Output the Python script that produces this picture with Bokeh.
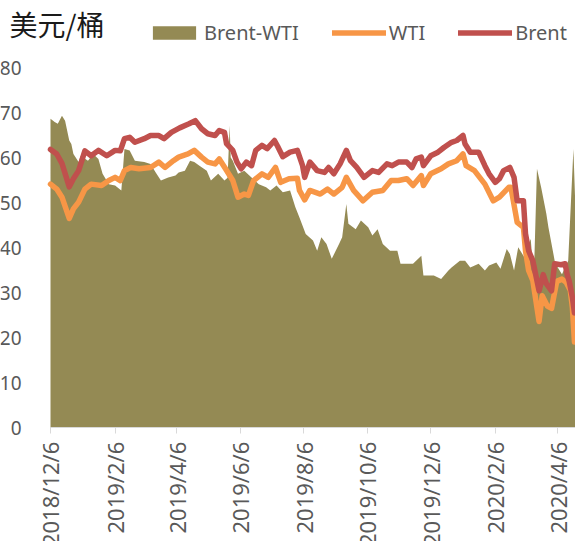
import math
import pandas as pd
from bokeh.plotting import figure
from bokeh.models import Range1d, FixedTicker, Legend, LegendItem, Label
from bokeh.embed import file_html
from bokeh.resources import INLINE

# ---------------- data ----------------
brent_dates = ["2018-12-06", "2018-12-12", "2018-12-17", "2018-12-24", "2018-12-28", "2019-01-02",
               "2019-01-08", "2019-01-14", "2019-01-21", "2019-01-29", "2019-02-06", "2019-02-11",
               "2019-02-15", "2019-02-20", "2019-02-25", "2019-03-06", "2019-03-12", "2019-03-20",
               "2019-03-25", "2019-04-01", "2019-04-09", "2019-04-18", "2019-04-24", "2019-04-30",
               "2019-05-06", "2019-05-13", "2019-05-17", "2019-05-22", "2019-05-24", "2019-05-30",
               "2019-06-03", "2019-06-07", "2019-06-12", "2019-06-17", "2019-06-21", "2019-06-27",
               "2019-07-02", "2019-07-09", "2019-07-12", "2019-07-17", "2019-07-24", "2019-07-31",
               "2019-08-05", "2019-08-07", "2019-08-12", "2019-08-19", "2019-08-26", "2019-08-30",
               "2019-09-04", "2019-09-10", "2019-09-16", "2019-09-20", "2019-09-26", "2019-10-03",
               "2019-10-11", "2019-10-17", "2019-10-25", "2019-10-30", "2019-11-05", "2019-11-13",
               "2019-11-18", "2019-11-22", "2019-11-27", "2019-11-29", "2019-12-06", "2019-12-13",
               "2019-12-19", "2019-12-26", "2019-12-31", "2020-01-06", "2020-01-08", "2020-01-13",
               "2020-01-21", "2020-01-27", "2020-01-31", "2020-02-06", "2020-02-10", "2020-02-14",
               "2020-02-20", "2020-02-24", "2020-02-27", "2020-03-04", "2020-03-06", "2020-03-09",
               "2020-03-13", "2020-03-19", "2020-03-23", "2020-03-26", "2020-03-31", "2020-04-03",
               "2020-04-09", "2020-04-13", "2020-04-15", "2020-04-17", "2020-04-20", "2020-04-22"]
brent = [61.8, 60.8, 58.7, 53.5, 55.3, 57.1,
         61.5, 60.4, 61.6, 60.4, 61.6, 61.5,
         64.2, 64.5, 63.4, 64.2, 64.9, 64.9,
         64.2, 65.6, 66.6, 67.5, 68.2, 66.4,
         65.3, 64.9, 66.0, 65.6, 63.1, 61.6,
         59.0, 57.5, 59.0, 58.2, 61.6, 62.7,
         62.0, 63.8, 62.5, 60.2, 61.2, 61.6,
         58.2, 55.6, 59.0, 57.1, 56.7, 57.8,
         56.4, 58.6, 61.6, 59.3, 57.8, 55.6,
         57.1, 56.7, 58.6, 58.2, 59.0, 59.0,
         57.8, 59.7, 60.1, 58.2, 60.4, 61.2,
         62.3, 63.4, 63.8, 64.9, 63.0, 61.2,
         61.2, 58.2, 56.4, 54.5, 55.3, 57.1,
         57.8, 55.6, 50.4, 50.4, 43.1, 39.3,
         37.1, 30.4, 34.0, 32.0, 30.4, 36.4,
         36.2, 36.4, 34.0, 32.5, 29.0, 25.5]

wti_dates = ["2018-12-06", "2018-12-12", "2018-12-17", "2018-12-24", "2018-12-28", "2019-01-02",
             "2019-01-08", "2019-01-14", "2019-01-24", "2019-01-31", "2019-02-06", "2019-02-11",
             "2019-02-15", "2019-02-21", "2019-03-01", "2019-03-12", "2019-03-20", "2019-03-26",
             "2019-04-03", "2019-04-08", "2019-04-17", "2019-04-23", "2019-04-30", "2019-05-06",
             "2019-05-13", "2019-05-17", "2019-05-23", "2019-05-30", "2019-06-04", "2019-06-10",
             "2019-06-14", "2019-06-19", "2019-06-27", "2019-07-03", "2019-07-10", "2019-07-15",
             "2019-07-23", "2019-07-31", "2019-08-02", "2019-08-07", "2019-08-12", "2019-08-22",
             "2019-08-29", "2019-09-04", "2019-09-12", "2019-09-16", "2019-09-23", "2019-10-02",
             "2019-10-11", "2019-10-21", "2019-10-29", "2019-11-05", "2019-11-13", "2019-11-19",
             "2019-11-27", "2019-11-29", "2019-12-06", "2019-12-16", "2019-12-23", "2019-12-31",
             "2020-01-06", "2020-01-09", "2020-01-17", "2020-01-27", "2020-02-04", "2020-02-10",
             "2020-02-19", "2020-02-21", "2020-02-27", "2020-03-04", "2020-03-06", "2020-03-09",
             "2020-03-13", "2020-03-19", "2020-03-22", "2020-03-27", "2020-03-31", "2020-04-05",
             "2020-04-10", "2020-04-14", "2020-04-18", "2020-04-20", "2020-04-22"]
wti = [54.1, 53.0, 51.2, 46.5, 48.6, 50.1,
       53.0, 54.1, 53.8, 54.9, 55.6, 54.9,
       57.1, 57.8, 57.5, 57.8, 59.0, 57.8,
       59.3, 60.1, 60.8, 61.6, 60.1, 59.0,
       58.6, 59.7, 57.5, 54.9, 51.2, 51.9,
       51.6, 54.9, 56.4, 55.6, 57.8, 54.5,
       55.3, 55.4, 52.7, 50.6, 52.7, 51.9,
       53.0, 51.9, 53.4, 55.6, 52.7, 50.4,
       52.3, 52.7, 54.9, 54.9, 55.3, 53.8,
       56.0, 53.8, 56.4, 57.5, 58.6, 59.3,
       60.8, 58.2, 57.1, 54.1, 50.4, 51.2,
       53.4, 53.4, 45.6, 44.5, 39.3, 34.9,
       32.7, 23.6, 29.3, 27.0, 26.5, 32.5,
       33.0, 32.3, 30.5, 26.7, 19.0]

spread_dates = ["2018-12-06", "2018-12-10", "2018-12-13", "2018-12-17", "2018-12-20", "2018-12-24",
                "2018-12-26", "2018-12-28", "2019-01-02", "2019-01-04", "2019-01-11", "2019-01-16",
                "2019-01-21", "2019-01-25", "2019-01-31", "2019-02-06", "2019-02-12", "2019-02-15",
                "2019-02-20", "2019-02-25", "2019-03-06", "2019-03-12", "2019-03-17", "2019-03-22",
                "2019-03-29", "2019-04-05", "2019-04-08", "2019-04-14", "2019-04-19", "2019-04-23",
                "2019-04-28", "2019-05-05", "2019-05-09", "2019-05-16", "2019-05-22", "2019-05-25",
                "2019-05-27", "2019-05-28", "2019-05-30", "2019-06-04", "2019-06-10", "2019-06-17",
                "2019-06-24", "2019-07-01", "2019-07-05", "2019-07-11", "2019-07-17", "2019-07-24",
                "2019-07-29", "2019-08-02", "2019-08-08", "2019-08-15", "2019-08-19", "2019-08-23",
                "2019-08-28", "2019-09-02", "2019-09-09", "2019-09-12", "2019-09-16", "2019-09-18",
                "2019-09-25", "2019-09-30", "2019-10-07", "2019-10-11", "2019-10-16", "2019-10-21",
                "2019-10-28", "2019-11-04", "2019-11-07", "2019-11-13", "2019-11-19", "2019-11-27",
                "2019-11-29", "2019-12-09", "2019-12-16", "2019-12-23", "2019-12-26", "2020-01-03",
                "2020-01-08", "2020-01-13", "2020-01-21", "2020-01-27", "2020-01-31", "2020-02-07",
                "2020-02-11", "2020-02-17", "2020-02-20", "2020-02-24", "2020-02-28", "2020-03-05",
                "2020-03-09", "2020-03-11", "2020-03-14", "2020-03-17", "2020-03-21", "2020-03-26",
                "2020-03-28", "2020-04-03", "2020-04-06", "2020-04-10", "2020-04-16", "2020-04-21",
                "2020-04-23"]
spread = [68.6, 67.9, 67.5, 69.3, 68.2, 63.8,
          63.0, 60.8, 59.0, 60.4, 59.3, 60.8,
          59.7, 56.4, 54.1, 53.8, 52.7, 61.9,
          61.6, 59.3, 59.0, 58.6, 56.7, 54.9,
          55.6, 56.0, 56.7, 57.1, 59.3, 59.0,
          58.2, 57.1, 54.9, 56.4, 54.9, 55.5,
          67.1, 60.0, 59.3, 56.4, 57.1, 55.6,
          54.1, 53.4, 52.7, 53.8, 52.3, 52.7,
          49.0, 46.7, 43.0, 41.6, 39.3, 42.3,
          40.8, 37.5, 40.8, 42.3, 49.7, 45.3,
          44.1, 46.0, 44.5, 42.7, 44.1, 40.8,
          39.3, 39.3, 36.4, 36.4, 36.4, 38.2,
          33.8, 33.8, 33.0, 34.9, 35.6, 37.1,
          37.1, 35.6, 36.4, 34.9, 36.0, 36.7,
          35.3, 39.7, 38.6, 34.9, 40.1, 37.8,
          40.8, 41.9, 33.4, 57.5, 53.4, 47.5,
          44.5, 37.1, 35.6, 34.1, 37.1, 61.9,
          48.2]

tick_labels = ["2018/12/6", "2019/2/6", "2019/4/6", "2019/6/6", "2019/8/6",
               "2019/10/6", "2019/12/6", "2020/2/6", "2020/4/6"]
y_ticks = [0, 10, 20, 30, 40, 50, 60, 70, 80]

series_names = ["Brent-WTI", "WTI", "Brent"]
unit_title = "美元/桶"

colors = {"Brent-WTI": "#948A54", "WTI": "#F79646", "Brent": "#C0504D"}

# ---------------- layout constants ----------------
W, H = 575, 541
AXIS_PAD_DAYS = 48.0     # room left of the first date for the y-axis labels
Y_TOP = 94.9             # room above 80 for the unit and the legend
Y_BOTTOM = -25.3         # room below 0 for the rotated date labels

data_start = pd.Timestamp("2018-12-06")
data_end = pd.Timestamp("2020-04-23")
x_start = data_start - pd.Timedelta(days=AXIS_PAD_DAYS)

p = figure(width=W, height=H, x_axis_type="datetime",
           output_backend="svg", toolbar_location=None,
           x_range=Range1d(x_start, data_end), y_range=Range1d(Y_BOTTOM, Y_TOP),
           min_border_left=0, min_border_right=0, min_border_top=0, min_border_bottom=0)
p.outline_line_color = None
p.grid.visible = False

area = p.varea(x=pd.to_datetime(spread_dates), y1=0, y2=spread, fill_color=colors["Brent-WTI"])
wti_r = p.line(x=pd.to_datetime(wti_dates), y=wti, line_color=colors["WTI"], line_width=5.5,
               line_join="round", line_cap="round")
brent_r = p.line(x=pd.to_datetime(brent_dates), y=brent, line_color=colors["Brent"], line_width=5.5,
                 line_join="round", line_cap="round")

# x axis, drawn at y = 0
tick_ts = [pd.to_datetime(t, format="%Y/%m/%d") for t in tick_labels]
tick_ms = [int(t.value // 10**6) for t in tick_ts]
start_ms = int(data_start.value // 10**6)
end_ms = int(data_end.value // 10**6)
p.xaxis.fixed_location = 0
p.xaxis.ticker = FixedTicker(ticks=tick_ms)
p.xaxis.bounds = (start_ms, end_ms)
p.xaxis.major_label_overrides = {ms: lab for ms, lab in zip(tick_ms, tick_labels)}
p.xaxis.major_label_orientation = math.pi / 2
p.xaxis.axis_line_color = "#D9D9D9"
p.xaxis.major_tick_line_color = "#D9D9D9"
p.xaxis.major_tick_out = 6
p.xaxis.major_tick_in = 0
p.xaxis.minor_tick_line_color = None
p.xaxis.major_label_standoff = 8
p.xaxis.major_label_text_font = "Noto Sans"
p.xaxis.major_label_text_font_size = "22px"
p.xaxis.major_label_text_color = "#595959"

# y axis, drawn at the first date (labels to its left)
p.yaxis.fixed_location = start_ms
p.yaxis.ticker = FixedTicker(ticks=y_ticks)
p.yaxis.axis_line_color = None
p.yaxis.major_tick_line_color = None
p.yaxis.minor_tick_line_color = None
p.yaxis.major_label_standoff = 23
p.yaxis.major_label_text_font = "Noto Sans"
p.yaxis.major_label_text_font_size = "19px"
p.yaxis.major_label_text_color = "#595959"

# legend
legend = Legend(items=[LegendItem(label=series_names[0], renderers=[area]),
                       LegendItem(label=series_names[1], renderers=[wti_r]),
                       LegendItem(label=series_names[2], renderers=[brent_r])],
                orientation="horizontal", location=(147, 495), padding=0, margin=0,
                spacing=33, glyph_width=54, glyph_height=17, label_standoff=3,
                border_line_color=None, background_fill_alpha=0,
                label_text_font="Noto Sans", label_text_font_size="20px",
                label_text_color="#595959")
p.add_layout(legend)

# unit label
title = Label(x=9, y=518, x_units="screen", y_units="screen", text=unit_title,
              text_font="Noto Sans CJK SC", text_font_size="28px", text_color="#1a1a1a",
              text_baseline="middle", text_align="left")
p.add_layout(title)

open("out.html", "w").write(file_html(p, INLINE))
